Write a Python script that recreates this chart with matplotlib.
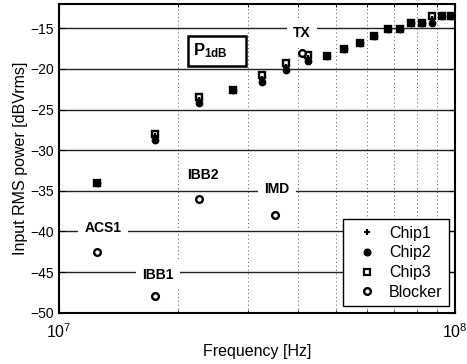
import matplotlib
matplotlib.use("Agg")
import matplotlib.pyplot as plt
from matplotlib.patches import Rectangle
from matplotlib.lines import Line2D
from matplotlib.ticker import NullFormatter, LogLocator

plt.rcParams['font.family'] = ['Liberation Sans', 'DejaVu Sans']
plt.rcParams['mathtext.fontset'] = 'custom'
plt.rcParams['mathtext.rm'] = 'Liberation Sans'
plt.rcParams['mathtext.bf'] = 'Liberation Sans:bold'
plt.rcParams['mathtext.it'] = 'Liberation Sans:italic'

# Measurement frequencies [Hz]
freq = [12.5e6, 17.5e6, 22.5e6, 27.5e6, 32.5e6, 37.5e6, 42.5e6, 47.5e6, 52.5e6,
        57.5e6, 62.5e6, 67.5e6, 72.5e6, 77.5e6, 82.5e6, 87.5e6, 92.5e6, 97.5e6]

# Input-referred 1 dB compression point [dBVrms] per chip
chip1 = [-34.0, -28.3, -23.8, -22.6, -21.2, -19.7, -18.7, -18.4, -17.6,
         -16.8, -15.9, -15.1, -15.1, -14.3, -14.3, -13.9, -13.5, -13.5]
chip2 = [-34.0, -28.7, -24.2, -22.6, -21.6, -20.1, -19.0, -18.4, -17.6,
         -16.8, -15.9, -15.1, -15.1, -14.3, -14.3, -14.3, -13.5, -13.5]
chip3 = [-34.0, -28.0, -23.4, -22.6, -20.8, -19.3, -18.3, -18.4, -17.6,
         -16.8, -15.9, -15.1, -15.1, -14.3, -14.3, -13.5, -13.5, -13.5]

# Blocker requirements
blocker_names = ['ACS1', 'IBB1', 'IBB2', 'IMD', 'TX']
blocker_freq = [12.5e6, 17.5e6, 22.5e6, 35e6, 41e6]
blocker_level = [-42.5, -48.0, -36.0, -38.0, -18.0]

# Label anchor positions (freq, level) for each blocker name
label_freq = [12.9e6, 17.8e6, 23.0e6, 35.5e6, 41.0e6]
label_level = [-39.6, -45.4, -33.1, -34.8, -15.6]

fig = plt.figure(figsize=(4.67, 3.64), dpi=100)
ax = fig.add_axes([0.1263, 0.141, 0.8487, 0.848])
ax.set_xscale('log')
ax.set_xlim(1e7, 1e8)
ax.set_ylim(-50, -12)

yticks = [-50, -45, -40, -35, -30, -25, -20, -15]
ax.set_yticks(yticks)
ax.set_xticks([1e7, 1e8])
ax.set_xticklabels([r'$\mathregular{10^{7}}$', r'$\mathregular{10^{8}}$'])
ax.xaxis.set_minor_locator(LogLocator(base=10, subs=range(2, 10)))
ax.xaxis.set_minor_formatter(NullFormatter())
ax.tick_params(axis='both', which='both', direction='in', top=True, right=True)
ax.tick_params(axis='y', labelsize=10)
ax.tick_params(axis='x', labelsize=11.5, pad=7)
ax.tick_params(which='major', length=4)
ax.tick_params(which='minor', length=2)

# grid: dotted verticals at minor decades, solid horizontals
for f in [2e7, 3e7, 4e7, 5e7, 6e7, 7e7, 8e7, 9e7]:
    ax.axvline(f, color='#555555', lw=0.7, ls=(0, (1, 3)), zorder=0)
for y in yticks[1:]:
    ax.axhline(y, color='#222222', lw=1.0, zorder=0.5)

for s in ax.spines.values():
    s.set_linewidth(1.5)

ms_kw = dict(linestyle='none', color='black')
ax.plot(freq, chip2, marker='o', markersize=4.8, markerfacecolor='black',
        markeredgewidth=0.8, zorder=3, **ms_kw)
ax.plot(freq, chip1, marker='+', markersize=5, markeredgewidth=1.6, zorder=3, **ms_kw)
ax.plot(freq, chip3, marker='s', markersize=4.4, markerfacecolor='none',
        markeredgewidth=1.7, zorder=4, **ms_kw)
ax.plot(blocker_freq, blocker_level, marker='o', markersize=4.8,
        markerfacecolor='white', markeredgewidth=1.7, zorder=4, **ms_kw)

for name, fx, fy in zip(blocker_names, label_freq, label_level):
    ax.text(fx, fy, name, ha='center', va='center', fontsize=10,
            fontweight='bold', zorder=2,
            bbox=dict(boxstyle='square,pad=0.45', fc='white', ec='none'))

# P1dB tag
ax.add_patch(Rectangle((2.12e7, -19.66), 2.96e7 - 2.12e7, 3.73, fc='white',
                       ec='black', lw=1.8, zorder=2))
ax.text(2.18e7, -17.7, r'$\mathbf{P_{1dB}}$', ha='left', va='center',
        fontsize=12, zorder=3)

ax.set_xlabel('Frequency [Hz]', fontsize=11.5, labelpad=2)
ax.set_ylabel('Input RMS power [dBVrms]', fontsize=11.5, labelpad=2)

handles = [
    Line2D([], [], marker='+', markersize=5, markeredgewidth=1.6, **ms_kw),
    Line2D([], [], marker='o', markersize=4.8, markerfacecolor='black', **ms_kw),
    Line2D([], [], marker='s', markersize=3.8, markerfacecolor='none',
           markeredgewidth=1.6, **ms_kw),
    Line2D([], [], marker='o', markersize=4.8, markerfacecolor='white',
           markeredgewidth=1.7, **ms_kw),
]
leg = ax.legend(handles, ['Chip1', 'Chip2', 'Chip3', 'Blocker'], loc='lower right',
                fontsize=11.5, frameon=True, fancybox=False, framealpha=1,
                edgecolor='black', borderpad=0.4, labelspacing=0.3,
                handlelength=2.2, handletextpad=0.3, borderaxespad=0.4)
leg.get_frame().set_linewidth(1.0)
leg.set_zorder(6)

fig.savefig('out.png', dpi=100)
